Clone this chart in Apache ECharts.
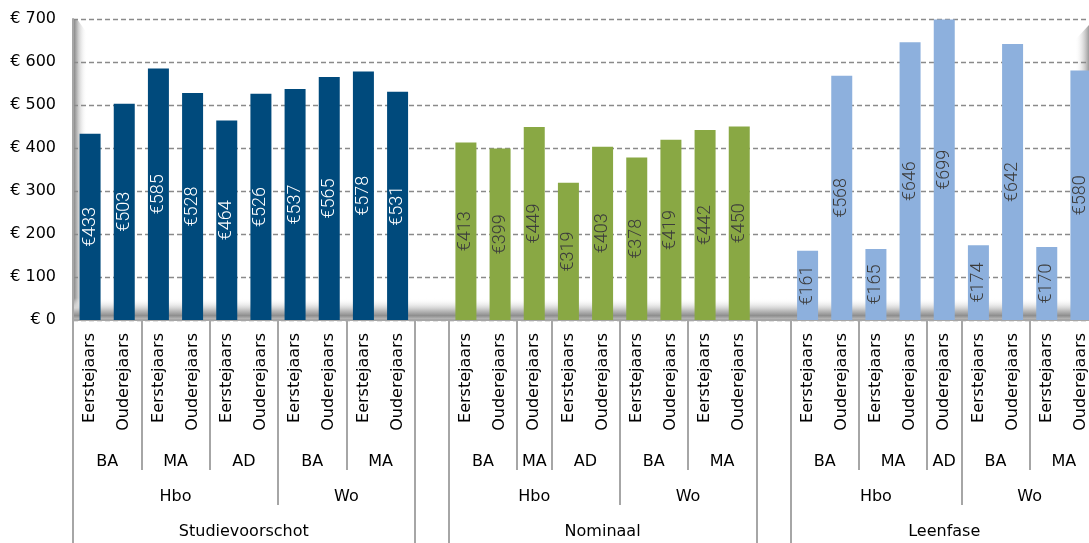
<!DOCTYPE html>
<html><head><meta charset="utf-8">
<script src="https://cdn.jsdelivr.net/npm/echarts@6/dist/echarts.min.js"></script>
<style>html,body{margin:0;padding:0;background:#fff}#c{width:1089px;height:543px}</style>
</head><body><div id="c"></div>
<script>
// ---- data ----
const yTicks = [0, 100, 200, 300, 400, 500, 600, 700];
const svValues = [433, 503, 585, 528, 464, 526, 537, 565, 578, 531];
const nomValues = [413, 399, 449, 319, 403, 378, 419, 442, 450];
const leenValues = [161, 568, 165, 646, 699, 174, 642, 170, 580];
const svCats = ['Eerstejaars','Ouderejaars','Eerstejaars','Ouderejaars','Eerstejaars','Ouderejaars','Eerstejaars','Ouderejaars','Eerstejaars','Ouderejaars'];
const nomCats = ['Eerstejaars','Ouderejaars','Ouderejaars','Eerstejaars','Ouderejaars','Eerstejaars','Ouderejaars','Eerstejaars','Ouderejaars'];
const leenCats = ['Eerstejaars','Ouderejaars','Eerstejaars','Ouderejaars','Ouderejaars','Eerstejaars','Ouderejaars','Eerstejaars','Ouderejaars'];
const svLevel2 = [['BA',2],['MA',2],['AD',2],['BA',2],['MA',2]];
const nomLevel2 = [['BA',2],['MA',1],['AD',2],['BA',2],['MA',2]];
const leenLevel2 = [['BA',2],['MA',2],['AD',1],['BA',2],['MA',2]];
const svLevel3 = [['Hbo',6],['Wo',4]];
const nomLevel3 = [['Hbo',5],['Wo',4]];
const leenLevel3 = [['Hbo',5],['Wo',4]];
const level4 = [['Studievoorschot',10],['',1],['Nominaal',9],['',1],['Leenfase',9]];

// ---- build ----
const gap = [''];
const categories = [].concat(svCats, gap, nomCats, gap, leenCats);
const N = categories.length;
const nulls = n => Array(n).fill(null);
const svData = [].concat(svValues, nulls(N - svValues.length));
const nomStart = svCats.length + 1;
const nomData = [].concat(nulls(nomStart), nomValues, nulls(N - nomStart - nomValues.length));
const leenStart = nomStart + nomCats.length + 1;
const leenData = [].concat(nulls(leenStart), leenValues);

const level2 = [].concat(svLevel2, [['',1]], nomLevel2, [['',1]], leenLevel2);
const level3 = [].concat(svLevel3, [['',1]], nomLevel3, [['',1]], leenLevel3);
function groupInfo(groups) {
  let pos = 0; const bounds = [0]; const centers = []; const names = {};
  groups.forEach(([name, span]) => {
    if (name) { const c = pos + span / 2; centers.push(c); names[String(c)] = name; }
    pos += span; bounds.push(pos);
  });
  return { bounds, centers, names };
}
const g2 = groupInfo(level2), g3 = groupInfo(level3), g4 = groupInfo(level4);

const FONT = 'DejaVu Sans';
const TICK = { color: '#a6a6a6', width: 2 };
function levelAxis(info, tickLen, margin) {
  return {
    type: 'value', position: 'bottom', gridIndex: 0, min: 0, max: N,
    axisLine: { show: false }, splitLine: { show: false },
    axisTick: { show: true, customValues: info.bounds, length: tickLen, lineStyle: TICK },
    axisLabel: { show: true, customValues: info.centers, margin: margin,
      fontFamily: FONT, fontSize: 16, color: '#000',
      formatter: v => info.names[String(v)] || '' }
  };
}

const labelBase = { show: true, position: 'inside', rotate: 90, fontFamily: 'Roboto', fontSize: 18,
  fontWeight: 300, textBorderWidth: 0, textShadowBlur: 0,
  formatter: p => '€' + p.value };

const chart = echarts.init(document.getElementById('c'), null, { renderer: 'canvas' });
chart.setOption({
  animation: false,
  backgroundColor: '#fff',
  grid: { left: 73, width: 1025, top: 19, height: 301, containLabel: false, outerBoundsMode: 'none' },
  xAxis: [
    { type: 'category', data: categories, position: 'bottom',
      axisLine: { lineStyle: { color: '#a6a6a6', width: 2 } },
      axisTick: { show: false },
      axisLabel: { interval: 0, rotate: 90, margin: 13, fontFamily: FONT, fontSize: 16, color: '#000' } },
    levelAxis(g2, 150, 134),
    levelAxis(g3, 185, 169),
    levelAxis(g4, 225, 204)
  ],
  yAxis: {
    type: 'value', min: yTicks[0], max: yTicks[yTicks.length - 1], interval: 100,
    axisLine: { show: true, lineStyle: { color: '#a6a6a6', width: 2 } },
    axisTick: { show: false },
    axisLabel: { margin: 17, fontFamily: FONT, fontSize: 16, color: '#000', formatter: v => '€ ' + v },
    splitLine: { lineStyle: { color: '#8a8a8a', type: [5, 3], width: 1.3 } }
  },
  graphic: [
    { type: 'polygon', z: -1, silent: true,
      shape: { points: [[74, 19], [77, 19], [87, 33], [87, 320], [74, 320]] },
      style: { fill: new echarts.graphic.LinearGradient(0, 0, 1, 0, [
        { offset: 0, color: '#8c8c8c' }, { offset: 0.35, color: '#cfcfcf' }, { offset: 1, color: 'rgba(255,255,255,0)' }]) } },
    { type: 'polygon', z: -1, silent: true,
      shape: { points: [[1089, 25], [1075, 40], [1075, 320], [1089, 320]] },
      style: { fill: new echarts.graphic.LinearGradient(0, 0, 1, 0, [
        { offset: 0, color: 'rgba(255,255,255,0)' }, { offset: 1, color: '#9a9a9a' }]) } },
    { type: 'rect', z: -1, silent: true,
      shape: { x: 74, y: 298, width: 1015, height: 22 },
      style: { fill: new echarts.graphic.LinearGradient(0, 0, 0, 1, [
        { offset: 0, color: 'rgba(255,255,255,0)' }, { offset: 0.45, color: '#d6d6d6' },
        { offset: 0.8, color: '#8e8e8e' }, { offset: 1, color: '#c4c4c4' }]) } }
  ],
  series: [
    { name: 'Studievoorschot', type: 'bar', stack: 'all', data: svData, barWidth: 21,
      itemStyle: { color: '#004a7c' }, label: Object.assign({}, labelBase, { color: '#ffffff' }) },
    { name: 'Nominaal', type: 'bar', stack: 'all', data: nomData, barWidth: 21,
      itemStyle: { color: '#89a844' }, label: Object.assign({}, labelBase, { color: '#3c3c3c' }) },
    { name: 'Leenfase', type: 'bar', stack: 'all', data: leenData, barWidth: 21,
      itemStyle: { color: '#8db0dd' }, label: Object.assign({}, labelBase, { color: '#3c3c3c' }) }
  ]
});
</script></body></html>
